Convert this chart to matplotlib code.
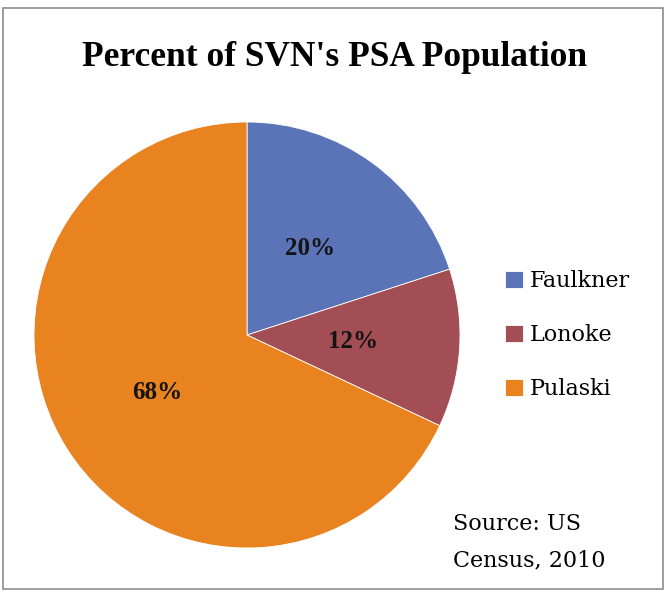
import matplotlib
matplotlib.use('Agg')
import matplotlib.pyplot as plt
import matplotlib.patches

counties = ['Faulkner', 'Lonoke', 'Pulaski']
shares = [20, 12, 68]
colors = ['#5B74B8', '#A34E55', '#E8831F']

title = "Percent of SVN's PSA Population"
source = 'Source: US\nCensus, 2010'

W, H = 665, 591


def main():
    fig = plt.figure(figsize=(W / 100, H / 100), dpi=100)
    fig.patch.set_facecolor('white')

    # outer chart border
    fig.patches.append(matplotlib.patches.Rectangle(
        (3 / W, 1 - 589 / H), 660 / W, 581 / H, transform=fig.transFigure,
        fill=False, edgecolor='#8c8c8c', linewidth=1.2))

    cx, cy, r = 247, 335, 213
    ax = fig.add_axes([(cx - r) / W, 1 - (cy + r) / H, 2 * r / W, 2 * r / H])
    wedges, _, autotexts = ax.pie(
        shares, colors=colors, startangle=90, counterclock=False,
        autopct='%1.0f%%', pctdistance=0.5,
        wedgeprops=dict(linewidth=0.6, edgecolor='white'),
        textprops=dict(family='Liberation Serif', fontsize=18,
                       fontweight='bold', color='#141414'))
    ax.set_xlim(-1, 1)
    ax.set_ylim(-1, 1)
    ax.set_aspect('equal')

    fig.text(335 / W, 1 - 57 / H, title, ha='center', va='center',
             family='Liberation Serif', fontsize=25.5, fontweight='bold')

    fig.legend(wedges, counties, loc='center left',
               bbox_to_anchor=(505 / W, 1 - 335 / H), frameon=False,
               borderaxespad=0, borderpad=0, handlelength=0.8,
               handleheight=0.8, handletextpad=0.3, labelspacing=1.45,
               prop=dict(family='DejaVu Serif', size=16))

    fig.text(453 / W, 1 - 542 / H, source, ha='left', va='center',
             family='DejaVu Serif', fontsize=16, linespacing=1.85)

    fig.savefig('out.png', dpi=100)
    plt.close('all')


if __name__ == '__main__':
    main()
